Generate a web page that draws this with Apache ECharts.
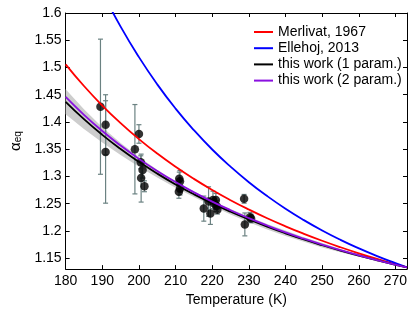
<!DOCTYPE html>
<html>
<head>
<meta charset="utf-8">
<script src="https://cdn.jsdelivr.net/npm/echarts@6/dist/echarts.min.js"></script>
<style>html,body{margin:0;padding:0;background:#fff}#c{width:415px;height:312px}</style>
</head>
<body>
<div id="c"></div>
<script>
// Curve sample temperatures (K)
var curveT = [180, 185, 190, 195, 200, 205, 210, 215, 220, 225, 230, 235, 240, 245, 250, 255, 260, 265, 270, 273.15];
var merlivat = [1.5058, 1.4660, 1.4302, 1.3979, 1.3686, 1.3420, 1.3178, 1.2956, 1.2752, 1.2565, 1.2393, 1.2233, 1.2085, 1.1948, 1.1820, 1.1701, 1.1590, 1.1486, 1.1389, 1.1330];
var ellehoj = [null, null, 1.6380, 1.5750, 1.5190, 1.4690, 1.4245, 1.3850, 1.3495, 1.3180, 1.2895, 1.2640, 1.2408, 1.2199, 1.2009, 1.1837, 1.1681, 1.1538, 1.1408, 1.1331];
var work1 = [1.4370, 1.4052, 1.3764, 1.3504, 1.3268, 1.3052, 1.2854, 1.2673, 1.2506, 1.2353, 1.2211, 1.2079, 1.1957, 1.1843, 1.1738, 1.1639, 1.1546, 1.1460, 1.1378, 1.1330];
var work2 = [1.4460, 1.4132, 1.3835, 1.3567, 1.3323, 1.3101, 1.2897, 1.2711, 1.2539, 1.2381, 1.2235, 1.2100, 1.1974, 1.1858, 1.1749, 1.1647, 1.1553, 1.1464, 1.1380, 1.1330];
var bandHalf = [0.023, 0.018, 0.014, 0.011, 0.009, 0.007, 0.006, 0.005, 0.005, 0.005, 0.005, 0.005, 0.005, 0.004, 0.004, 0.003, 0.002, 0.0015, 0.001, 0.0];

// Measurements
var measT = [189.5, 190.9, 190.9, 198.9, 200.0, 200.5, 200.6, 201.0, 201.5, 211.0, 211.2, 210.9, 211.2, 217.7, 219.0, 219.5, 220.2, 220.6, 221.0, 221.2, 221.4, 228.7, 228.9, 230.3, 230.6];
var measA = [1.428, 1.395, 1.345, 1.350, 1.378, 1.326, 1.297, 1.312, 1.282, 1.296, 1.291, 1.272, 1.278, 1.241, 1.254, 1.232, 1.257, 1.250, 1.257, 1.246, 1.239, 1.259, 1.212, 1.225, 1.223];
var measErr = [0.124, 0.055, 0.094, 0.082, 0.017, 0.012, 0.044, 0.015, 0.010, 0.012, 0.020, 0.012, 0.012, 0.023, 0.027, 0.020, 0.016, 0.010, 0.012, 0.010, 0.008, 0.008, 0.021, 0.009, 0.008];

// Tick labels
var xTicks = [180, 190, 200, 210, 220, 230, 240, 250, 260, 270];
var yTicks = [1.15, 1.2, 1.25, 1.3, 1.35, 1.4, 1.45, 1.5, 1.55, 1.6];
var seriesNames = ['Merlivat, 1967', 'Ellehoj, 2013', 'this work (1 param.)', 'this work (2 param.)'];
var seriesColors = ['#ff0000', '#0000ff', '#000000', '#8a10e0'];

function pairs(ys) {
  var out = [];
  for (var i = 0; i < curveT.length; i++) if (ys[i] != null) out.push([curveT[i], ys[i]]);
  return out;
}
var errData = measT.map(function (t, i) { return [t, measA[i], measA[i] - measErr[i], measA[i] + measErr[i]]; });
var ptData = measT.map(function (t, i) { return [t, measA[i]]; });

var FONT = 'Liberation Sans, Arial, sans-serif';
var chart = echarts.init(document.getElementById('c'), null, { renderer: 'canvas' });

function mkAxis(extra) {
  return Object.assign({
    type: 'value',
    axisLine: { show: true, onZero: false, lineStyle: { color: '#000', width: 1 } },
    splitLine: { show: false }
  }, extra);
}
var tickStyle = { show: true, inside: true, length: 4, lineStyle: { color: '#000' } };

chart.setOption({
  animation: false,
  backgroundColor: '#fff',
  grid: { left: 59, right: 8, top: 13, bottom: 36, containLabel: false },
  legend: {
    orient: 'vertical', left: 249, top: 20,
    itemWidth: 19, itemHeight: 2, itemGap: 2.2,
    textStyle: { fontFamily: FONT, fontSize: 14, color: '#000' },
    data: seriesNames.map(function (n) { return { name: n, icon: 'rect' }; })
  },
  xAxis: [
    mkAxis({
      min: 180, max: 273.15, position: 'bottom',
      name: 'Temperature (K)', nameLocation: 'middle', nameGap: 20,
      nameTextStyle: { fontFamily: FONT, fontSize: 14, color: '#000' },
      axisTick: Object.assign({ customValues: xTicks }, tickStyle),
      axisLabel: { customValues: xTicks, fontFamily: FONT, fontSize: 14, color: '#000', margin: 5 }
    }),
    mkAxis({
      min: 180, max: 273.15, position: 'top',
      axisTick: Object.assign({ customValues: xTicks }, tickStyle),
      axisLabel: { show: false }
    })
  ],
  yAxis: [
    mkAxis({
      min: 1.13, max: 1.6, position: 'left',
      name: '{a|α}{s|eq}', nameLocation: 'middle', nameGap: 40, nameRotate: 90,
      nameTextStyle: { fontFamily: FONT, color: '#000',
        rich: { a: { fontFamily: FONT, fontSize: 15, color: '#000' },
                s: { fontFamily: FONT, fontSize: 10, color: '#000', verticalAlign: 'bottom', padding: [6, 0, 0, 0] } } },
      axisTick: Object.assign({ customValues: yTicks }, tickStyle),
      axisLabel: { customValues: yTicks, fontFamily: FONT, fontSize: 14, color: '#000', margin: 4,
        formatter: function (v) { return String(+(+v).toFixed(2)); } }
    }),
    mkAxis({
      min: 1.13, max: 1.6, position: 'right',
      axisTick: Object.assign({ customValues: yTicks }, tickStyle),
      axisLabel: { show: false }
    })
  ],
  series: [
    {
      type: 'custom', name: 'band', silent: true, z: 1,
      data: [[curveT[0], work1[0]]],
      renderItem: function (params, api) {
        var up = [], lo = [];
        for (var i = 0; i < curveT.length; i++) {
          up.push(api.coord([curveT[i], work1[i] + bandHalf[i]]));
          lo.unshift(api.coord([curveT[i], work1[i] - bandHalf[i]]));
        }
        return { type: 'polygon', shape: { points: up.concat(lo) }, style: { fill: '#cdcdcd', stroke: null } };
      }
    },
    {
      type: 'custom', name: 'errbars', silent: true, z: 2,
      encode: { x: 0, y: [1, 2, 3] },
      data: errData,
      renderItem: function (params, api) {
        var x = api.value(0);
        var pLo = api.coord([x, api.value(2)]);
        var pHi = api.coord([x, api.value(3)]);
        var cw = 2.5;
        var st = { stroke: '#6b8282', lineWidth: 1.2 };
        return { type: 'group', children: [
          { type: 'line', shape: { x1: pLo[0], y1: pLo[1], x2: pHi[0], y2: pHi[1] }, style: st },
          { type: 'line', shape: { x1: pLo[0] - cw, y1: pLo[1], x2: pLo[0] + cw, y2: pLo[1] }, style: st },
          { type: 'line', shape: { x1: pHi[0] - cw, y1: pHi[1], x2: pHi[0] + cw, y2: pHi[1] }, style: st }
        ] };
      }
    },
    {
      type: 'scatter', name: 'data', z: 3, symbol: 'circle', symbolSize: 8.5,
      itemStyle: { color: '#000' }, data: ptData
    },
    { type: 'line', name: seriesNames[0], data: pairs(merlivat), smooth: true, symbol: 'none', z: 4, lineStyle: { color: seriesColors[0], width: 1.8 }, itemStyle: { color: seriesColors[0] } },
    { type: 'line', name: seriesNames[1], data: pairs(ellehoj), smooth: true, symbol: 'none', z: 4, lineStyle: { color: seriesColors[1], width: 1.8 }, itemStyle: { color: seriesColors[1] } },
    { type: 'line', name: seriesNames[2], data: pairs(work1), smooth: true, symbol: 'none', z: 4, lineStyle: { color: seriesColors[2], width: 1.8 }, itemStyle: { color: seriesColors[2] } },
    { type: 'line', name: seriesNames[3], data: pairs(work2), smooth: true, symbol: 'none', z: 4, lineStyle: { color: seriesColors[3], width: 1.8 }, itemStyle: { color: seriesColors[3] } }
  ]
});
</script>
</body>
</html>
